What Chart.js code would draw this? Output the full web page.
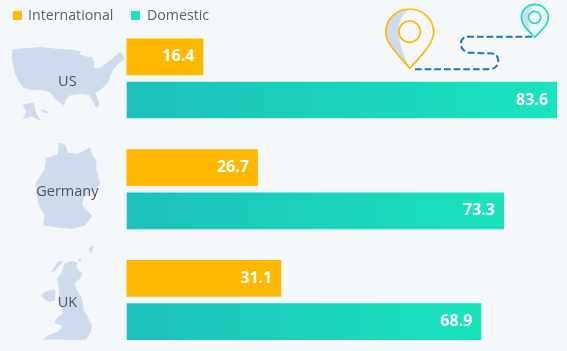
<!DOCTYPE html>
<html>
<head>
<meta charset="utf-8">
<script src="https://cdn.jsdelivr.net/npm/chart.js@4"></script>
<style>
    html, body { margin: 0; padding: 0; width: 567px; height: 351px; overflow: hidden; background: #f5f8fb; font-family: "Open Sans", sans-serif; }
    #art, #myChart, #legend { position: absolute; left: 0; top: 0; }
    #legend { font-size: 14.2px; color: #5c6269; }
    #legend span { position: absolute; top: 5px; white-space: nowrap; }
    #legend i { position: absolute; top: 11px; width: 9px; height: 9px; }
</style>
</head>
<body>
<!-- 地圖與圖釘 (zoom coordinates, 3x) -->
<svg id="art" width="567" height="351">
    <g transform="scale(0.3333)" fill="#cfdaec" stroke="#cfdaec" stroke-width="3" stroke-linejoin="round">
        <path d="M38 150 L60 147 L120 143 L175 148 L215 150 L240 155 L238 165 L262 172 L275 172 L282 190 L280 205 L300 205 L320 190 L335 180 L345 170 L358 158 L365 160 L372 178 L355 190 L342 205 L330 225 L325 245 L305 265 L285 278 L297 315 L290 322 L278 300 L268 283 L240 280 L210 285 L195 300 L192 315 L170 300 L150 275 L125 268 L95 268 L70 262 L55 240 L45 215 L38 180 Z"/>
        <path d="M70 315 L100 310 L108 340 L120 360 L95 348 L70 355 L80 335 Z"/>
        <path d="M125 330 L145 338 L130 335 Z"/>
    </g>
    <g transform="translate(0,130) scale(0.3333)" fill="#cfdaec" stroke="#cfdaec" stroke-width="3" stroke-linejoin="round">
        <path d="M178 40 L195 45 L203 70 L230 72 L250 65 L270 55 L275 75 L288 92 L287 120 L300 160 L285 180 L250 200 L245 225 L275 258 L255 285 L215 295 L190 293 L130 285 L135 255 L120 230 L110 190 L108 160 L135 120 L140 85 L175 75 Z"/>
    </g>
    <g transform="translate(0,240) scale(0.3333)" fill="#cfdaec" stroke="#cfdaec" stroke-width="2" stroke-linejoin="round">
        <path d="M195 70 L215 65 L232 68 L228 85 L245 100 L240 115 L222 130 L230 150 L245 175 L250 210 L265 235 L275 255 L272 275 L258 298 L225 300 L190 298 L130 298 L150 285 L175 275 L190 258 L165 250 L170 235 L190 220 L185 200 L175 180 L178 160 L175 130 L172 115 L185 100 Z"/>
        <path d="M125 165 L135 155 L165 150 L165 180 L150 185 L135 178 Z"/>
        <path d="M268 25 L282 17 L272 40 Z"/>
        <path d="M155 95 L175 65 L188 65 L165 90 Z"/>
        <path d="M235 60 L243 55 L240 65 Z"/>
    </g>
    <g transform="translate(370,0) scale(0.3333)" fill="none">
        <path d="M135 208 L360 208 Q385 205 385 180 Q382 160 360 160 L295 158 Q272 150 272 130 Q275 110 295 110 L490 110" stroke="#1b75bc" stroke-width="6" stroke-dasharray="20 9"/>
        <path d="M119 27 C79 27 47 58 47 97 C47 130 85 165 120 205 C85 130 65 65 119 27 Z" fill="#cfdaec" stroke="none"/>
        <path d="M119 27 C79 27 47 58 47 97 C47 130 85 165 120 205 C155 165 191 130 191 97 C191 58 159 27 119 27 Z" stroke="#ffb800" stroke-width="5"/>
        <circle cx="119" cy="95" r="32" stroke="#ffb800" stroke-width="5"/>
        <path d="M494 13 C470 13 454 32 454 52 C454 75 475 92 494 112 C472 80 465 40 494 13 Z" fill="#cfdaec" stroke="none"/>
        <path d="M494 13 C470 13 454 32 454 52 C454 75 475 92 494 112 C513 92 535 75 535 52 C535 32 518 13 494 13 Z" stroke="#1adfbd" stroke-width="5"/>
        <circle cx="494" cy="52" r="18" stroke="#1adfbd" stroke-width="5"/>
    </g>
</svg>
<canvas id="myChart" width="567" height="360"></canvas>
<div id="legend">
    <i style="left:13px;background:#ffb800"></i><span style="left:28px">International</span>
    <i style="left:131px;background:#1adfbd"></i><span style="left:147px">Domestic</span>
</div>
<script>
var categories = ['US', 'Germany', 'UK'];
var international = [16.4, 26.7, 31.1];
var domestic = [83.6, 73.3, 68.9];

// 數值標籤 (no datalabels plugin available)
const valueLabels = {
    id: 'valueLabels',
    afterDatasetsDraw(chart) {
        const ctx = chart.ctx;
        ctx.save();
        ctx.font = '700 16px "Open Sans"';
        ctx.fillStyle = '#ffffff';
        ctx.textAlign = 'right';
        ctx.textBaseline = 'middle';
        chart.data.datasets.forEach(function (ds, i) {
            chart.getDatasetMeta(i).data.forEach(function (bar, j) {
                ctx.fillText(ds.data[j].toFixed(1), bar.x - 9, bar.y);
            });
        });
        ctx.restore();
    }
};

// 每條長條各自的漸層
function barGradient(context) {
    const chart = context.chart;
    if (context.type !== 'data' || !chart.chartArea) return '#1adfbd';
    const xScale = chart.scales.x;
    const g = chart.ctx.createLinearGradient(xScale.left, 0, xScale.getPixelForValue(context.parsed.x), 0);
    g.addColorStop(0, '#1cc0bc');
    g.addColorStop(1, '#1ae4bc');
    return g;
}

const mychart = new Chart(document.getElementById('myChart'), {
    type: 'bar',
    data: {
        labels: categories,
        datasets: [
            { label: 'International', data: international, backgroundColor: '#ffb800', xAxisID: 'x2' },
            { label: 'Domestic', data: domestic, backgroundColor: barGradient, xAxisID: 'x' }
        ]
    },
    options: {
        indexAxis: 'y',
        responsive: false,
        animation: false,
        categoryPercentage: 0.78,
        barPercentage: 0.85,
        layout: { padding: { left: 10, right: 7, top: 23, bottom: 4.6 } },
        plugins: { legend: { display: false }, tooltip: { enabled: false } },
        scales: {
            x: { display: false, min: 0, max: 84.17 },
            // the yellow bars in the picture sit on a slightly different scale
            x2: { display: false, min: 1.9, max: 83.7 },
            y: {
                grid: { display: false },
                border: { display: false },
                afterFit: function (axis) {
                    axis.width = 116.5;
                    axis.paddingTop = 0;
                    axis.paddingBottom = 0;
                },
                ticks: {
                    crossAlign: 'center',
                    labelOffset: 3,
                    padding: 20,
                    color: '#4f555c',
                    font: { family: '"Open Sans"', size: 14.5 }
                }
            }
        }
    },
    plugins: [valueLabels]
});
</script>
</body>
</html>
